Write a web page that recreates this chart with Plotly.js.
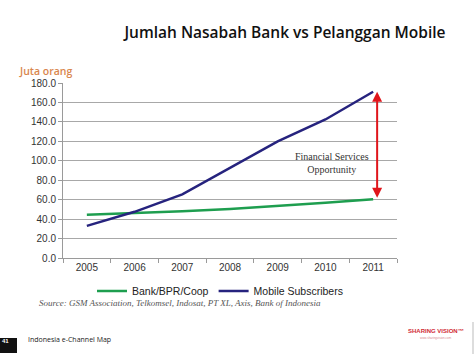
<!DOCTYPE html>
<html>
<head>
<meta charset="utf-8">
<script src="https://cdn.plot.ly/plotly-3.0.1.min.js"></script>
<style>html,body{margin:0;padding:0;background:#fff;}#chart{width:474px;height:354px;}</style>
</head>
<body>
<div id="chart"></div>
<script>
var years = ['2005', '2006', '2007', '2008', '2009', '2010', '2011'];
var bankValues = [44.5, 46.0, 48.0, 50.5, 53.5, 56.8, 60.5];
var mobileValues = [33.0, 47.5, 65.5, 93.0, 120.0, 142.5, 171.0];
var seriesNames = ['Bank/BPR/Coop', 'Mobile Subscribers'];
var yTicks = [0, 20, 40, 60, 80, 100, 120, 140, 160, 180];

var L = 63, R = 397, T = 83, B = 258;
function px(x) { return (x - L) / (R - L); }
function py(y) { return (B - y) / (B - T); }

var traces = [
  {x: years, y: bankValues, name: seriesNames[0], type: 'scatter', mode: 'lines',
   line: {color: '#1e9e4f', width: 2.5}},
  {x: years, y: mobileValues, name: seriesNames[1], type: 'scatter', mode: 'lines',
   line: {color: '#26237e', width: 2.5}}
];

var last = years.length - 1;
var layout = {
  width: 474, height: 354,
  margin: {l: L, r: 474 - R, t: T, b: 354 - B},
  paper_bgcolor: '#ffffff', plot_bgcolor: '#ffffff',
  showlegend: true,
  legend: {orientation: 'h', x: px(220), xanchor: 'center', y: py(291), yanchor: 'middle',
           font: {family: 'Liberation Sans, Arial', size: 10.5, color: '#222'},
           itemwidth: 30, tracegroupgap: 0},
  title: {text: 'Jumlah Nasabah Bank vs Pelanggan Mobile', x: 285 / 474, xanchor: 'center',
          y: 1 - 33 / 354, yanchor: 'middle',
          font: {family: 'Open Sans, Noto Sans', size: 15.5, color: '#111', weight: 600}},
  xaxis: {type: 'category', range: [-0.5, years.length - 0.5], showgrid: false, showline: true,
          linecolor: '#9a9a9a', linewidth: 1,
          ticks: 'outside', tickson: 'boundaries', ticklen: 4, tickcolor: '#9a9a9a',
          tickfont: {family: 'Liberation Sans, Arial', size: 10, color: '#333'}, zeroline: false},
  yaxis: {range: [0, 180], tickvals: yTicks, tickformat: '.1f', showgrid: true, gridcolor: '#a8a8a8',
          gridwidth: 1, showline: true, linecolor: '#9a9a9a', linewidth: 1, ticks: 'outside',
          ticklen: 4, tickcolor: '#9a9a9a', zeroline: false,
          tickfont: {family: 'Liberation Sans, Arial', size: 10, color: '#333'}},
  annotations: [
    {x: last, y: mobileValues[last], ax: last, ay: bankValues[last],
     xref: 'x', yref: 'y', axref: 'x', ayref: 'y', showarrow: true, arrowside: 'end+start',
     arrowhead: 2, startarrowhead: 2, arrowsize: 1, startarrowsize: 1, arrowwidth: 2, arrowcolor: '#e0151b',
     text: '', xshift: 4},
    {x: px(332), y: py(163), xref: 'paper', yref: 'paper', xanchor: 'center', yanchor: 'middle',
     showarrow: false, text: 'Financial Services<br>Opportunity', align: 'center',
     font: {family: 'Liberation Serif', size: 10, color: '#333'}},
    {x: px(17), y: py(62), xref: 'paper', yref: 'paper', xanchor: 'left', showarrow: false,
     text: 'Juta orang', font: {family: 'Open Sans, Noto Sans', size: 10.5, color: '#d9864e', weight: 600}},
    {x: px(37), y: py(310), xref: 'paper', yref: 'paper', xanchor: 'left', showarrow: false,
     text: '<i>Source: GSM Association, Telkomsel, Indosat, PT XL, Axis, Bank of Indonesia</i>',
     font: {family: 'Liberation Serif', size: 9, color: '#555'}},
    {x: px(26), y: py(346), xref: 'paper', yref: 'paper', xanchor: 'left', showarrow: false,
     text: 'Indonesia e-Channel Map', font: {family: 'Open Sans, Noto Sans', size: 7, color: '#222'}},
    {x: px(6), y: py(346), xref: 'paper', yref: 'paper', xanchor: 'center', showarrow: false,
     text: '<b>41</b>', font: {family: 'Liberation Sans, Arial', size: 6, color: '#fff'}},
    {x: px(436), y: py(336), xref: 'paper', yref: 'paper', xanchor: 'center', showarrow: false,
     text: '<b>SHARING VISION™</b>', font: {family: 'Liberation Sans, Arial', size: 6, color: '#d02a35'}},
    {x: px(436), y: py(342), xref: 'paper', yref: 'paper', xanchor: 'center', showarrow: false,
     text: 'www.sharingvision.com', font: {family: 'Liberation Sans, Arial', size: 3, color: '#d98a8f'}}
  ],
  shapes: [
    {type: 'rect', xref: 'paper', yref: 'paper', x0: px(0), x1: px(17), y0: py(353), y1: py(338),
     fillcolor: '#111', line: {width: 0}, layer: 'above'},
    {type: 'line', xref: 'paper', yref: 'paper', x0: px(473), x1: px(473), y0: py(354), y1: py(322),
     line: {color: '#bbb', width: 1}}
  ]
};

Plotly.newPlot('chart', traces, layout, {staticPlot: true, displayModeBar: false});
</script>
</body>
</html>
